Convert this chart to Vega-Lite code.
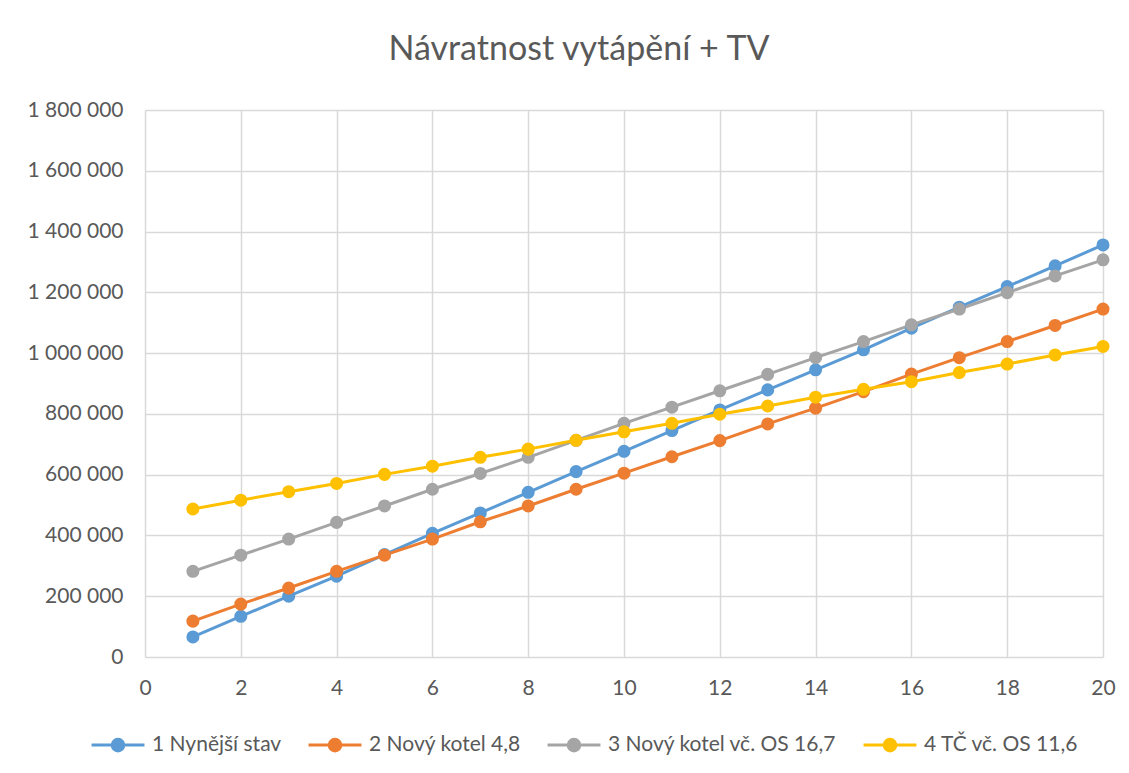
{
  "$schema": "https://vega.github.io/schema/vega-lite/v6.json",
  "autosize": "none",
  "width": 958,
  "height": 547,
  "padding": {"left": 145, "top": 110, "right": 26, "bottom": 116},
  "background": "white",
  "title": {
    "text": "Návratnost vytápění + TV",
    "font": "Lato",
    "fontSize": 34,
    "fontWeight": "normal",
    "color": "#595959",
    "anchor": "middle",
    "frame": "group",
    "dx": -45,
    "baseline": "alphabetic",
    "offset": 5
  },
  "data": {
    "values": [
      {"rok": 1, "varianta": "1 Nynější stav", "hodnota": 66000},
      {"rok": 2, "varianta": "1 Nynější stav", "hodnota": 134000},
      {"rok": 3, "varianta": "1 Nynější stav", "hodnota": 200000},
      {"rok": 4, "varianta": "1 Nynější stav", "hodnota": 266000},
      {"rok": 5, "varianta": "1 Nynější stav", "hodnota": 337000},
      {"rok": 6, "varianta": "1 Nynější stav", "hodnota": 407000},
      {"rok": 7, "varianta": "1 Nynější stav", "hodnota": 474000},
      {"rok": 8, "varianta": "1 Nynější stav", "hodnota": 542000},
      {"rok": 9, "varianta": "1 Nynější stav", "hodnota": 610000},
      {"rok": 10, "varianta": "1 Nynější stav", "hodnota": 677000},
      {"rok": 11, "varianta": "1 Nynější stav", "hodnota": 745000},
      {"rok": 12, "varianta": "1 Nynější stav", "hodnota": 813000},
      {"rok": 13, "varianta": "1 Nynější stav", "hodnota": 879000},
      {"rok": 14, "varianta": "1 Nynější stav", "hodnota": 945000},
      {"rok": 15, "varianta": "1 Nynější stav", "hodnota": 1011000},
      {"rok": 16, "varianta": "1 Nynější stav", "hodnota": 1082000},
      {"rok": 17, "varianta": "1 Nynější stav", "hodnota": 1151000},
      {"rok": 18, "varianta": "1 Nynější stav", "hodnota": 1219000},
      {"rok": 19, "varianta": "1 Nynější stav", "hodnota": 1287000},
      {"rok": 20, "varianta": "1 Nynější stav", "hodnota": 1356000},
      {"rok": 1, "varianta": "2 Nový kotel 4,8", "hodnota": 118000},
      {"rok": 2, "varianta": "2 Nový kotel 4,8", "hodnota": 174000},
      {"rok": 3, "varianta": "2 Nový kotel 4,8", "hodnota": 227000},
      {"rok": 4, "varianta": "2 Nový kotel 4,8", "hodnota": 282000},
      {"rok": 5, "varianta": "2 Nový kotel 4,8", "hodnota": 335000},
      {"rok": 6, "varianta": "2 Nový kotel 4,8", "hodnota": 388000},
      {"rok": 7, "varianta": "2 Nový kotel 4,8", "hodnota": 445000},
      {"rok": 8, "varianta": "2 Nový kotel 4,8", "hodnota": 497000},
      {"rok": 9, "varianta": "2 Nový kotel 4,8", "hodnota": 552000},
      {"rok": 10, "varianta": "2 Nový kotel 4,8", "hodnota": 605000},
      {"rok": 11, "varianta": "2 Nový kotel 4,8", "hodnota": 659000},
      {"rok": 12, "varianta": "2 Nový kotel 4,8", "hodnota": 712000},
      {"rok": 13, "varianta": "2 Nový kotel 4,8", "hodnota": 767000},
      {"rok": 14, "varianta": "2 Nový kotel 4,8", "hodnota": 819000},
      {"rok": 15, "varianta": "2 Nový kotel 4,8", "hodnota": 873000},
      {"rok": 16, "varianta": "2 Nový kotel 4,8", "hodnota": 931000},
      {"rok": 17, "varianta": "2 Nový kotel 4,8", "hodnota": 985000},
      {"rok": 18, "varianta": "2 Nový kotel 4,8", "hodnota": 1038000},
      {"rok": 19, "varianta": "2 Nový kotel 4,8", "hodnota": 1091000},
      {"rok": 20, "varianta": "2 Nový kotel 4,8", "hodnota": 1145000},
      {"rok": 1, "varianta": "3 Nový kotel vč. OS 16,7", "hodnota": 282000},
      {"rok": 2, "varianta": "3 Nový kotel vč. OS 16,7", "hodnota": 335000},
      {"rok": 3, "varianta": "3 Nový kotel vč. OS 16,7", "hodnota": 388000},
      {"rok": 4, "varianta": "3 Nový kotel vč. OS 16,7", "hodnota": 443000},
      {"rok": 5, "varianta": "3 Nový kotel vč. OS 16,7", "hodnota": 497000},
      {"rok": 6, "varianta": "3 Nový kotel vč. OS 16,7", "hodnota": 552000},
      {"rok": 7, "varianta": "3 Nový kotel vč. OS 16,7", "hodnota": 604000},
      {"rok": 8, "varianta": "3 Nový kotel vč. OS 16,7", "hodnota": 657000},
      {"rok": 9, "varianta": "3 Nový kotel vč. OS 16,7", "hodnota": 713000},
      {"rok": 10, "varianta": "3 Nový kotel vč. OS 16,7", "hodnota": 769000},
      {"rok": 11, "varianta": "3 Nový kotel vč. OS 16,7", "hodnota": 822000},
      {"rok": 12, "varianta": "3 Nový kotel vč. OS 16,7", "hodnota": 876000},
      {"rok": 13, "varianta": "3 Nový kotel vč. OS 16,7", "hodnota": 930000},
      {"rok": 14, "varianta": "3 Nový kotel vč. OS 16,7", "hodnota": 985000},
      {"rok": 15, "varianta": "3 Nový kotel vč. OS 16,7", "hodnota": 1038000},
      {"rok": 16, "varianta": "3 Nový kotel vč. OS 16,7", "hodnota": 1093000},
      {"rok": 17, "varianta": "3 Nový kotel vč. OS 16,7", "hodnota": 1145000},
      {"rok": 18, "varianta": "3 Nový kotel vč. OS 16,7", "hodnota": 1199000},
      {"rok": 19, "varianta": "3 Nový kotel vč. OS 16,7", "hodnota": 1254000},
      {"rok": 20, "varianta": "3 Nový kotel vč. OS 16,7", "hodnota": 1307000},
      {"rok": 1, "varianta": "4 TČ vč. OS 11,6", "hodnota": 487000},
      {"rok": 2, "varianta": "4 TČ vč. OS 11,6", "hodnota": 516000},
      {"rok": 3, "varianta": "4 TČ vč. OS 11,6", "hodnota": 544000},
      {"rok": 4, "varianta": "4 TČ vč. OS 11,6", "hodnota": 571000},
      {"rok": 5, "varianta": "4 TČ vč. OS 11,6", "hodnota": 601000},
      {"rok": 6, "varianta": "4 TČ vč. OS 11,6", "hodnota": 628000},
      {"rok": 7, "varianta": "4 TČ vč. OS 11,6", "hodnota": 657000},
      {"rok": 8, "varianta": "4 TČ vč. OS 11,6", "hodnota": 684000},
      {"rok": 9, "varianta": "4 TČ vč. OS 11,6", "hodnota": 713000},
      {"rok": 10, "varianta": "4 TČ vč. OS 11,6", "hodnota": 741000},
      {"rok": 11, "varianta": "4 TČ vč. OS 11,6", "hodnota": 769000},
      {"rok": 12, "varianta": "4 TČ vč. OS 11,6", "hodnota": 799000},
      {"rok": 13, "varianta": "4 TČ vč. OS 11,6", "hodnota": 826000},
      {"rok": 14, "varianta": "4 TČ vč. OS 11,6", "hodnota": 855000},
      {"rok": 15, "varianta": "4 TČ vč. OS 11,6", "hodnota": 881000},
      {"rok": 16, "varianta": "4 TČ vč. OS 11,6", "hodnota": 906000},
      {"rok": 17, "varianta": "4 TČ vč. OS 11,6", "hodnota": 936000},
      {"rok": 18, "varianta": "4 TČ vč. OS 11,6", "hodnota": 964000},
      {"rok": 19, "varianta": "4 TČ vč. OS 11,6", "hodnota": 994000},
      {"rok": 20, "varianta": "4 TČ vč. OS 11,6", "hodnota": 1022000}
    ]
  },
  "encoding": {
    "x": {
      "field": "rok",
      "type": "quantitative",
      "scale": {"domain": [0, 20], "nice": false, "zero": false},
      "axis": {
        "title": null,
        "values": [0, 2, 4, 6, 8, 10, 12, 14, 16, 18, 20],
        "labelFont": "Lato",
        "labelFontSize": 21,
        "labelColor": "#595959",
        "labelPadding": 20,
        "labelFlush": false,
        "ticks": false,
        "domain": false,
        "grid": true,
        "gridColor": "#D9D9D9",
        "gridWidth": 1.5
      }
    },
    "y": {
      "field": "hodnota",
      "type": "quantitative",
      "scale": {"domain": [0, 1800000], "nice": false},
      "axis": {
        "title": null,
        "values": [0, 200000, 400000, 600000, 800000, 1000000, 1200000, 1400000, 1600000, 1800000],
        "labelExpr": "replace(replace(format(datum.value, ','), ',', ' '), ',', ' ')",
        "labelFont": "Lato",
        "labelFontSize": 21,
        "labelColor": "#595959",
        "labelPadding": 22,
        "labelFlush": false,
        "ticks": false,
        "domain": false,
        "grid": true,
        "gridColor": "#D9D9D9",
        "gridWidth": 1.5
      }
    },
    "color": {
      "field": "varianta",
      "type": "nominal",
      "scale": {
        "domain": ["1 Nynější stav", "2 Nový kotel 4,8", "3 Nový kotel vč. OS 16,7", "4 TČ vč. OS 11,6"],
        "range": ["#5B9BD5", "#ED7D31", "#A5A5A5", "#FFC000"]
      },
      "legend": {
        "title": null,
        "orient": "none",
        "direction": "horizontal",
        "legendX": -55,
        "legendY": 607,
        "labelFont": "Lato",
        "labelFontSize": 21,
        "labelColor": "#595959",
        "labelLimit": 0,
        "labelOffset": 6,
        "columnPadding": 20,
        "symbolType": "M-1,0L1,0M-0.22,0A0.22,0.22,0,1,1,0.22,0A0.22,0.22,0,1,1,-0.22,0Z",
        "symbolSize": 2800,
        "symbolStrokeWidth": 3,
        "encode": {
          "symbols": {
            "update": {
              "fill": {"scale": "color", "field": "value"},
              "stroke": {"scale": "color", "field": "value"},
              "strokeWidth": {"value": 3},
              "opacity": {"value": 1}
            }
          }
        }
      }
    }
  },
  "layer": [
    {"mark": {"type": "line", "strokeWidth": 3}},
    {"mark": {"type": "point", "filled": true, "size": 170, "opacity": 1}}
  ],
  "config": {
    "view": {"stroke": null},
    "font": "Lato"
  }
}
